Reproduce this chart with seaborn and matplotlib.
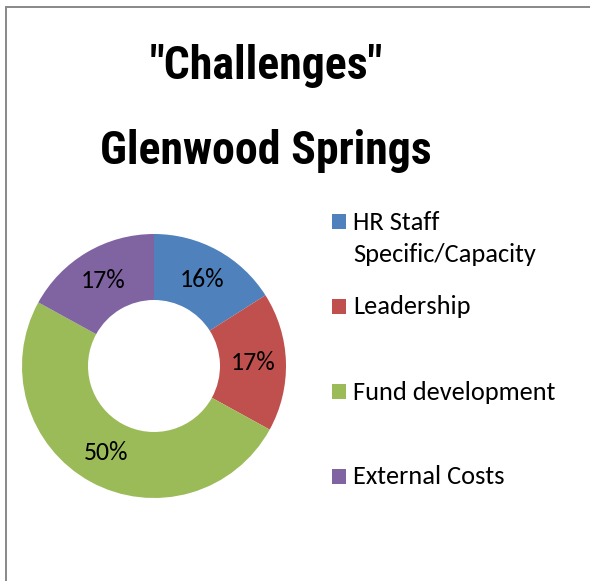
import textwrap
import matplotlib
matplotlib.use("Agg")
import matplotlib.pyplot as plt
from matplotlib import font_manager
from matplotlib.patches import Rectangle
import seaborn as sns

# Chart data
categories = ["HR Staff Specific/Capacity", "Leadership", "Fund development", "External Costs"]
shares = [16, 17, 50, 17]
title_lines = ['"Challenges"', "Glenwood Springs"]

sns.set_theme(style="white")
palette = sns.color_palette(["#4F81BD", "#C0504D", "#9BBB59", "#8064A2"])

installed = {f.name for f in font_manager.fontManager.ttflist}
def pick(*names):
    for n in names:
        if n in installed:
            return n
    return "DejaVu Sans"

body_font = pick("Carlito", "Lato", "Open Sans")
title_font = pick("Roboto Condensed", "Liberation Sans Narrow", "DejaVu Sans")
plt.rcParams["font.family"] = [body_font, "DejaVu Sans"]

W, H = 590, 581
fig = plt.figure(figsize=(W / 100, H / 100), dpi=100)

def fx(px):
    return px / W

def fy(py):
    return 1 - py / H

# Outer chart border (runs off the right and bottom edges)
fig.patches.append(Rectangle((fx(6), -0.2), 2, fy(7) + 0.2, transform=fig.transFigure,
                             fill=False, edgecolor="#888888", linewidth=1.4))

# Title
for text, base in zip(title_lines, [79, 164]):
    fig.text(fx(266), fy(base), text, ha="center", va="baseline",
             fontsize=33, fontweight="black", family=[title_font, "DejaVu Sans"],
             color="black")

# Donut
cx, cy, r = 154, 366, 132
ax = fig.add_axes([fx(cx - r), fy(cy + r), (2 * r) / W, (2 * r) / H])
wedges, texts, autotexts = ax.pie(
    shares, colors=palette, startangle=90, counterclock=False, radius=1,
    autopct="%.0f%%", pctdistance=0.75,
    wedgeprops=dict(width=0.5, linewidth=0),
    textprops=dict(fontsize=18.5, color="black"),
)
ax.set_xlim(-1, 1)
ax.set_ylim(-1, 1)
ax.set_aspect("equal")
ax.axis("off")

# Legend
row_y = [222, 307, 392, 477]
for label, color, y in zip(categories, palette, row_y):
    fig.patches.append(Rectangle((fx(332), fy(y + 7)), 14 / W, 15 / H,
                                 transform=fig.transFigure, facecolor=color, edgecolor="none"))
    for i, line in enumerate(textwrap.wrap(label, 17)):
        fig.text(fx(353), fy(y + i * 33), line, ha="left", va="center",
                 fontsize=19, color="black")

fig.savefig("out.png", dpi=100, facecolor="white")
